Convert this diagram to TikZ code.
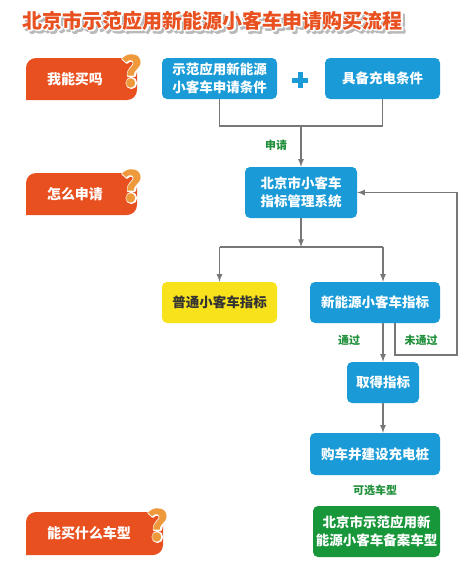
\documentclass[tikz,border=0pt]{standalone}
\usepackage{fontspec}
\setmainfont{Noto Sans CJK SC}
\usepackage{xcolor}
\usetikzlibrary{calc}
\definecolor{boxblue}{HTML}{1A9BD7}
\definecolor{tagorange}{HTML}{E8501F}
\definecolor{qorange}{HTML}{EE9A3C}
\definecolor{boxyellow}{HTML}{F7E21B}
\definecolor{boxgreen}{HTML}{18963A}
\definecolor{lblgreen}{HTML}{1F8F3A}
\definecolor{linegray}{HTML}{777777}
% white edge round a text: fill and stroke it in white
\newcommand\whiteedge[2]{\color{white}\special{pdf:literal direct 2 Tr #1 w 1 1 1 RG 1 j}#2\special{pdf:literal direct 0 Tr}}

\begin{document}
\begin{tikzpicture}[x=1pt,y=1pt,
        box/.style={rounded corners=5pt,fill=boxblue,text=white,align=center,inner sep=0pt,font=\bfseries\fontsize{13.5}{17.5}\selectfont},
        conn/.style={line width=1.6pt,color=linegray},
        arr/.style={conn,-latex},
        lbl/.style={text=lblgreen,font=\bfseries\fontsize{11}{13}\selectfont},
        tagtext/.style={text=white,font=\bfseries\fontsize{14}{16}\selectfont},
        qmark/.style={font=\bfseries\fontsize{42}{42}\selectfont,inner sep=0pt},
        titletext/.style={font=\bfseries\fontsize{20}{20}\selectfont}]
        \useasboundingbox (0,0) rectangle (475,-566);
        % title, with shadow and white edge
        \node[titletext] (title) at (213,-22) {\rlap{\kern2pt\raisebox{-2.5pt}{\whiteedge{2.4}{\color{gray!55}北京市示范应用新能源小客车申请购买流程}}}\rlap{\whiteedge{2.4}{北京市示范应用新能源小客车申请购买流程}}\textcolor{tagorange}{北京市示范应用新能源小客车申请购买流程}};

        % question tags on the left
        \fill[tagorange] (26,-100) -- (26,-68) arc(180:90:10) -- (137,-58) -- (137,-90) arc(0:-90:10) -- cycle;
        \fill[tagorange] (26,-215) -- (26,-183) arc(180:90:10) -- (137,-173) -- (137,-205) arc(0:-90:10) -- cycle;
        \fill[tagorange] (26,-555) -- (26,-522) arc(180:90:10) -- (163,-512) -- (163,-545) arc(0:-90:10) -- cycle;
        \node[tagtext] (tag1) at (75,-79) {我能买吗};
        \node[tagtext] (tag2) at (75,-194) {怎么申请};
        \node[tagtext] (tag3) at (89,-533.5) {能买什么车型};
        \foreach \qx/\qy in {132/-71,132/-186,158/-525}
            \node[qmark] (q) at (\qx,\qy) {\rlap{\whiteedge{2.6}{?}}\textcolor{qorange}{?}};

        % boxes
        \node[box,minimum width=115,minimum height=41] (cond) at (219.5,-78.5) {示范应用新能源\\小客车申请条件};
        \node[box,minimum width=115,minimum height=41] (charge) at (382.5,-78.5) {具备充电条件};
        \draw[boxblue,line width=5pt] (292,-80) -- (308,-80) (300,-72) -- (300,-88);
        \node[box,minimum width=112,minimum height=51] (system) at (301,-192.5) {北京市小客车\\指标管理系统};
        \node[box,fill=boxyellow,text=black!80,minimum width=115,minimum height=41] (normal) at (219.5,-302.5) {普通小客车指标};
        \node[box,minimum width=130,minimum height=41] (newen) at (375,-302.5) {新能源小客车指标};
        \node[box,minimum width=72,minimum height=41] (obtain) at (383,-382.5) {取得指标};
        \node[box,minimum width=130,minimum height=42] (buy) at (375,-454) {购车并建设充电桩};
        \node[box,fill=boxgreen,minimum width=127,minimum height=51] (models) at (376.5,-531.5) {北京市示范应用新\\能源小客车备案车型};

        % connectors
        \coordinate (join) at (system.north |- 0,-126);
        \draw[conn] (cond.south) |- (join) -| (charge.south);
        \draw[arr] (join) -- (system.north);
        \node[lbl] (apply) at (276,-145) {申请};
        \coordinate (split) at (system.south |- 0,-247);
        \draw[arr] (system.south) -- (split);
        \draw[conn] (normal.north |- split) -- (obtain.north |- split);
        \draw[arr] (normal.north |- split) -- (normal.north);
        \draw[arr] (obtain.north |- split) -- (obtain.north |- newen.north);
        \coordinate (back) at (457,-355);
        \draw[arr] ([xshift=20pt]newen.south) |- (back) |- (system.east);
        \node[lbl] (pass) at (349,-340) {通过};
        \node[lbl] (fail) at (421,-340) {未通过};
        \draw[arr] (obtain.north |- newen.south) -- (obtain.north);
        \draw[arr] (obtain.south) -- (obtain.south |- buy.north);
        \node[lbl] (choose) at (375,-490) {可选车型};
\end{tikzpicture}
\end{document}
